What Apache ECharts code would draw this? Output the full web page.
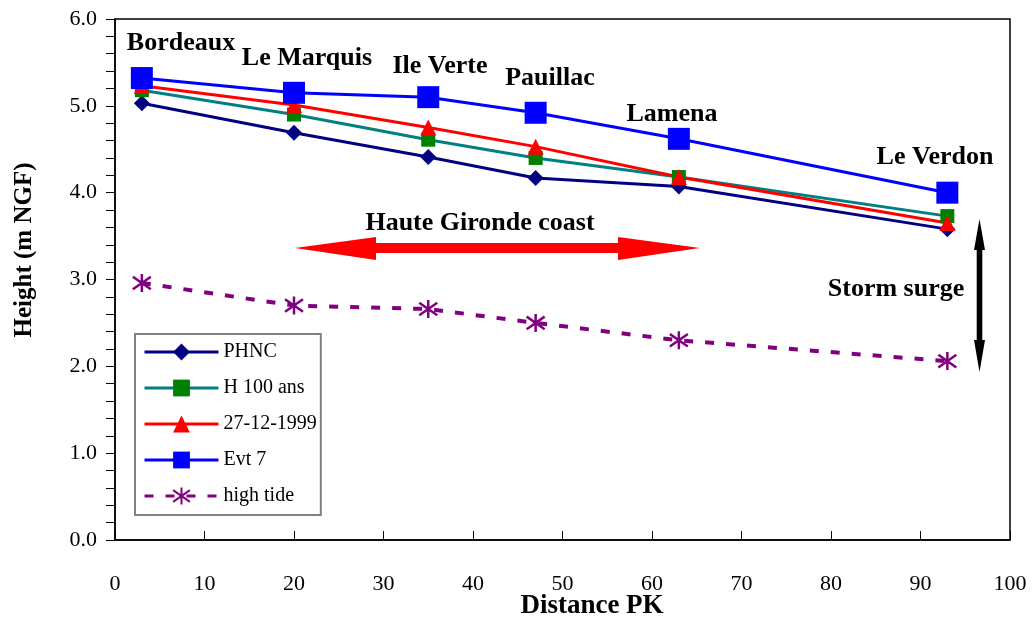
<!DOCTYPE html>
<html>
<head>
<meta charset="utf-8">
<script src="https://cdn.jsdelivr.net/npm/echarts@6/dist/echarts.min.js"></script>
<style>
  html, body { margin: 0; padding: 0; background: #fff; }
  #lineChart { width: 1036px; height: 619px; }
</style>
</head>
<body>
<div id="lineChart"></div>
<script>
// distance PK of each station
const pk = [3, 20, 35, 47, 63, 93];
const stations = ['Bordeaux', 'Le Marquis', 'Ile Verte', 'Pauillac', 'Lamena', 'Le Verdon'];

// heights (m NGF)
const phnc = [5.03, 4.69, 4.41, 4.17, 4.07, 3.58];
const h100 = [5.18, 4.90, 4.61, 4.40, 4.18, 3.73];
const ev1999 = [5.23, 5.01, 4.75, 4.53, 4.18, 3.65];
const evt7 = [5.32, 5.15, 5.10, 4.92, 4.62, 4.00];
const highTide = [2.96, 2.70, 2.66, 2.50, 2.30, 2.06];

const seriesNames = ['PHNC', 'H 100 ans', '27-12-1999', 'Evt 7', 'high tide'];

const FONT = '"Liberation Serif", "Times New Roman", serif';

function pairs(vals) {
  return pk.map(function (x, i) { return [x, vals[i]]; });
}

// where the station names sit (pixels)
const stationPos = [[181, 43], [307, 58], [440, 66], [550, 78], [672, 114], [935, 157]];

const starPath = 'path://M10,0L10,20M0,3L20,17M20,3L0,17';

let lineChart = {
  __dom: null,
  __chart: null,
  __option: {},
  initChart: function () {
    this.__dom = document.getElementById('lineChart');
    this.__chart = echarts.init(this.__dom, null, { renderer: 'canvas' });

    let graphics = stations.map(function (s, i) {
      return {
        type: 'text', x: stationPos[i][0], y: stationPos[i][1], z: 100,
        style: { text: s, font: 'bold 26px ' + FONT, fill: '#000', textAlign: 'center', textVerticalAlign: 'middle' }
      };
    });
    graphics.push(
      {
        type: 'text', x: 480, y: 223, z: 100,
        style: { text: 'Haute Gironde coast', font: 'bold 26px ' + FONT, fill: '#000', textAlign: 'center', textVerticalAlign: 'middle' }
      },
      {
        type: 'text', x: 896, y: 289, z: 100,
        style: { text: 'Storm surge', font: 'bold 26px ' + FONT, fill: '#000', textAlign: 'center', textVerticalAlign: 'middle' }
      },
      {
        type: 'text', x: 25, y: 250, rotation: Math.PI / 2, z: 100,
        style: { text: 'Height (m NGF)', font: 'bold 25px ' + FONT, fill: '#000', textAlign: 'center', textVerticalAlign: 'middle' }
      },
      {
        type: 'text', x: 592, y: 606, z: 100,
        style: { text: 'Distance PK', font: 'bold 27px ' + FONT, fill: '#000', textAlign: 'center', textVerticalAlign: 'middle' }
      },
      {
        // red double arrow
        type: 'polygon', z: 90,
        shape: { points: [[295, 248], [376, 237], [376, 243], [618, 243], [618, 237], [700, 248], [618, 260], [618, 253], [376, 253], [376, 260]] },
        style: { fill: '#ff0000' }
      },
      {
        // black double arrow
        type: 'polygon', z: 90,
        shape: { points: [[979.5, 219], [985, 250], [982.3, 250], [982.3, 340], [985, 340], [979.5, 372], [974, 340], [976.7, 340], [976.7, 250], [974, 250]] },
        style: { fill: '#000' }
      }
    );

    this.__option = {
      backgroundColor: '#fff',
      animation: false,
      textStyle: { fontFamily: FONT },
      grid: {
        left: 115, right: 26, top: 19, bottom: 79,
        show: true, borderColor: '#000', borderWidth: 1.5
      },
      legend: {
        data: seriesNames,
        orient: 'vertical',
        left: 135, top: 334,
        padding: [8, 4, 9, 8],
        itemWidth: 74, itemHeight: 21, itemGap: 16,
        borderColor: '#808080', borderWidth: 2,
        backgroundColor: '#fff',
        lineStyle: { width: 3 },
        textStyle: { fontFamily: FONT, fontSize: 20, color: '#000' }
      },
      xAxis: {
        type: 'value',
        min: 0, max: 100, interval: 10,
        axisLine: { show: true, lineStyle: { color: '#000', width: 1.5 } },
        axisTick: { show: true, inside: true, length: 9, lineStyle: { color: '#000' } },
        axisLabel: { margin: 33, fontFamily: FONT, fontSize: 22, color: '#000' },
        splitLine: { show: false }
      },
      yAxis: {
        type: 'value',
        min: 0, max: 6, interval: 1,
        axisLine: { show: true, lineStyle: { color: '#000', width: 1.5 } },
        axisTick: { show: true, inside: false, length: 9, lineStyle: { color: '#000' } },
        minorTick: { show: true, splitNumber: 5, length: 9, lineStyle: { color: '#000' } },
        axisLabel: {
          margin: 18, fontFamily: FONT, fontSize: 22, color: '#000',
          formatter: function (v) { return v.toFixed(1); }
        },
        splitLine: { show: false }
      },
      graphic: graphics,
      series: [
        {
          name: 'PHNC', type: 'line', data: pairs(phnc),
          symbol: 'diamond', symbolSize: 16,
          lineStyle: { color: '#000080', width: 3 },
          itemStyle: { color: '#000080' }
        },
        {
          name: 'H 100 ans', type: 'line', data: pairs(h100),
          symbol: 'rect', symbolSize: 14,
          lineStyle: { color: '#008080', width: 3 },
          itemStyle: { color: '#008000' }
        },
        {
          name: '27-12-1999', type: 'line', data: pairs(ev1999),
          symbol: 'triangle', symbolSize: 16,
          lineStyle: { color: '#ff0000', width: 3 },
          itemStyle: { color: '#ff0000' }
        },
        {
          name: 'Evt 7', type: 'line', data: pairs(evt7),
          symbol: 'rect', symbolSize: 22,
          lineStyle: { color: '#0000ff', width: 3 },
          itemStyle: { color: '#0000ff' }
        },
        {
          name: 'high tide', type: 'line', data: pairs(highTide),
          symbol: starPath, symbolSize: 18,
          lineStyle: { color: '#800080', width: 4, type: [9, 12] },
          itemStyle: { color: 'rgba(0,0,0,0)', borderColor: '#800080', borderWidth: 2.5 }
        }
      ]
    };
    this.__chart.setOption(this.__option);
  },
};

lineChart.initChart();
</script>
</body>
</html>
